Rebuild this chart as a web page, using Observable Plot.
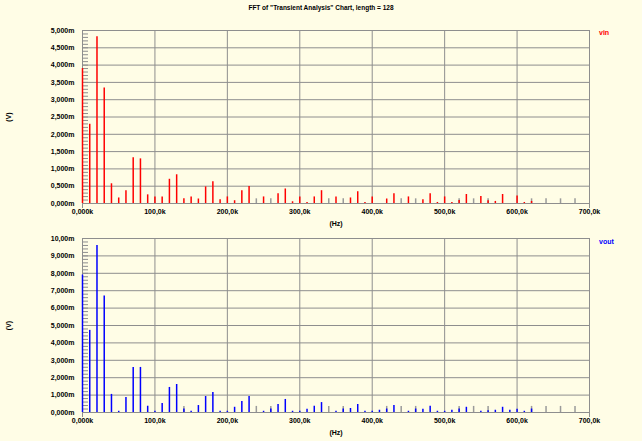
<!DOCTYPE html>
<html><head><meta charset="utf-8">
<script src="https://cdn.jsdelivr.net/npm/d3@7"></script>
<script src="https://cdn.jsdelivr.net/npm/@observablehq/plot@0.6"></script>
<style>
html,body{margin:0;padding:0;background:#fffde6;}
#wrap{position:relative;width:642px;height:441px;background:#fffde6;font-family:"Liberation Sans",Arial,sans-serif;overflow:hidden;}
#title{position:absolute;top:3px;left:0;width:642px;text-align:center;font-size:6.5px;font-weight:bold;color:#000;line-height:10px;}
.plot{position:absolute;left:0;}
.leg{position:absolute;font-size:7px;font-weight:bold;line-height:8px;}
</style></head>
<body><div id="wrap">
<div id="title">FFT of "Transient Analysis" Chart, length = 128</div>
</div>
<script>
// frequencies in kHz (FFT bins)
const freqs = d3.range(0, 690, 10);
// magnitudes in mV, one per bin
const vin = [3.90,2.29,4.82,3.34,0.57,0.16,0.37,1.32,1.29,0.25,
  0.19,0.19,0.70,0.83,0.14,0.19,0.13,0.48,0.63,0.11,
  0.19,0.08,0.37,0.49,0.00,0.19,0.00,0.28,0.42,0.05,
  0.19,0.03,0.19,0.37,0.00,0.19,0.00,0.16,0.34,0.03,
  0.19,0.00,0.13,0.28,0.00,0.19,0.00,0.11,0.28,0.03,
  0.19,0.03,0.09,0.26,0.00,0.20,0.08,0.06,0.26,0.00,
  0.22,0.03,0.06,0.00,0.00,0.00,0.00,0.00,0.00];
const vout = [7.90,4.72,9.60,6.69,1.04,0.07,0.86,2.59,2.59,0.36,
  0.07,0.52,1.44,1.61,0.20,0.07,0.40,0.92,1.15,0.07,
  0.07,0.30,0.63,0.92,0.00,0.07,0.20,0.46,0.75,0.07,
  0.07,0.19,0.36,0.57,0.00,0.07,0.20,0.23,0.46,0.07,
  0.07,0.13,0.20,0.40,0.00,0.07,0.20,0.19,0.36,0.07,
  0.07,0.13,0.20,0.30,0.00,0.07,0.10,0.13,0.30,0.13,
  0.19,0.07,0.20,0.00,0.00,0.00,0.00,0.00,0.00];
// bins shown with a grey marker, and the marker magnitude per chart (mV)
const greyBinsVin = [240,260,340,360,440,460,520,540,560,620,640,660,680];
const greyLevelVin = 0.135;
const greyBinsVout = [140,240,260,340,360,420,440,460,520,540,560,620,640,660,680];
const greyLevelVout = 0.35;
const xTicks = d3.range(0, 701, 100);
const yTicksVin = d3.range(0, 5.001, 0.5);
const yTicksVout = d3.range(0, 10.001, 1);
const yMinorVin = d3.range(0, 5.001, 0.1);
const yMinorVout = d3.range(0, 10.001, 0.2);

const fmt = d => {
  if (Math.abs(d) < 1e-9) return "0,000";
  const digits = Math.min(3, Math.max(0, 3 - Math.floor(Math.log10(Math.abs(d)) + 1e-9)));
  return d.toFixed(digits).replace(".", ",");
};
const GRID = "#8e8e8e";
const ML = 82, MR = 53, W = 642;

function chart({values, greyBins, greyLevel, color, yMax, yTicks, yMinor, height, marginTop, marginBottom}) {
  const data = freqs.map((f, i) => ({f, v: values[i]}));
  const grey = greyBins.map(f => ({f, v: greyLevel}));
  return Plot.plot({
    width: W, height, marginLeft: ML, marginRight: MR, marginTop, marginBottom,
    style: {background: "transparent", fontFamily: "Liberation Sans, Arial, sans-serif", color: "#000"},
    x: {domain: [0, 700]},
    y: {domain: [0, yMax]},
    marks: [
      Plot.gridX(xTicks.filter(d => d > 0 && d < 700), {stroke: GRID, strokeOpacity: 1}),
      Plot.gridY(yTicks.filter(d => d > 0 && d < yMax), {stroke: GRID, strokeOpacity: 1}),
      Plot.frame({stroke: GRID}),
      Plot.ruleY(yMinor, {stroke: GRID, insetRight: W - ML - MR - 6}),
      Plot.axisX([0, 700], {tickSize: 5, text: null, stroke: GRID, label: null}),
      Plot.ruleX(grey, {x: "f", y1: 0, y2: "v", stroke: "#9a9a9a", strokeWidth: 1.5}),
      Plot.ruleX(data.filter(d => d.v > 0), {x: "f", y1: 0, y2: "v", stroke: color, strokeWidth: 1.5}),
      Plot.axisY(yTicks, {tickSize: 0, tickPadding: 8, tickFormat: d => fmt(d) + "m", fontSize: 7, fontWeight: "bold",
        label: "(V)", labelAnchor: "center", labelArrow: "none", labelOffset: 76}),
      Plot.axisX(xTicks, {tickSize: 0, tickPadding: 6, tickFormat: d => fmt(d) + "k", fontSize: 7, fontWeight: "bold",
        label: "(Hz)", labelAnchor: "center", labelArrow: "none", labelOffset: 22})
    ]
  });
}

const wrap = document.getElementById("wrap");
const p1 = chart({values: vin, greyBins: greyBinsVin, greyLevel: greyLevelVin, color: "#ff0000", yMax: 5,
  yTicks: yTicksVin, yMinor: yMinorVin, height: 210, marginTop: 10, marginBottom: 27});
p1.classList.add("plot"); p1.style.top = "20px";
wrap.appendChild(p1);
const p2 = chart({values: vout, greyBins: greyBinsVout, greyLevel: greyLevelVout, color: "#0000ff", yMax: 10,
  yTicks: yTicksVout, yMinor: yMinorVout, height: 211, marginTop: 8, marginBottom: 29});
p2.classList.add("plot"); p2.style.top = "230px";
wrap.appendChild(p2);

const series = ["vin", "vout"];
const seriesColors = ["#ff0000", "#0000ff"];
[[29], [238]].forEach(([top], i) => {
  const d = document.createElement("div");
  d.className = "leg"; d.textContent = series[i]; d.style.color = seriesColors[i];
  d.style.left = "599px"; d.style.top = top + "px";
  wrap.appendChild(d);
});
</script>
</body></html>
